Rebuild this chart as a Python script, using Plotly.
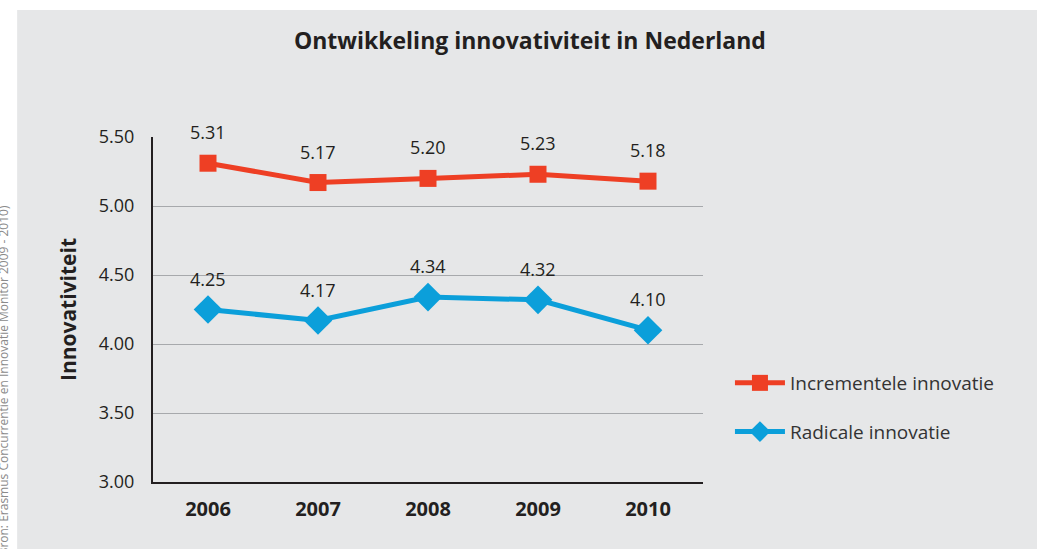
import plotly.graph_objects as go

years = ["2006", "2007", "2008", "2009", "2010"]
incrementeel = [5.31, 5.17, 5.20, 5.23, 5.18]
radicaal = [4.25, 4.17, 4.34, 4.32, 4.10]
y_ticks = [3.00, 3.50, 4.00, 4.50, 5.00, 5.50]

RED = "#ee3f24"
BLUE = "#0b9fda"
PANEL = "#e6e7e8"
FONT = "Open Sans"

fig = go.Figure()
fig.add_trace(go.Scatter(
    x=years, y=incrementeel, name="Incrementele innovatie", legendgroup="a",
    mode="lines+markers",
    line=dict(color=RED, width=5),
    marker=dict(symbol="square", size=17, color=RED),
))
fig.add_trace(go.Scatter(
    x=years, y=radicaal, name="Radicale innovatie", legendgroup="b",
    mode="lines+markers",
    line=dict(color=BLUE, width=5),
    marker=dict(symbol="diamond", size=22, color=BLUE),
))

# value labels above the points (category axis -> annotation x is the category index)
for series in (incrementeel, radicaal):
    for i, val in enumerate(series):
        fig.add_annotation(x=i, y=val, text="{:.2f}".format(val), showarrow=False,
                           yshift=31, font=dict(family=FONT, size=18, color="#231f20"))

# gray panel behind the chart
fig.add_shape(type="rect", xref="paper", yref="paper", layer="below",
              x0=-0.247, x1=2, y0=-0.4, y1=1.368,
              fillcolor=PANEL, line=dict(width=0))

# source note on the left edge
fig.add_annotation(xref="paper", yref="paper", x=-0.271, y=0.29,
                   text="(Bron: Erasmus Concurrentie en Innovatie Monitor 2009 - 2010)",
                   textangle=-90, showarrow=False, xanchor="center", yanchor="middle",
                   font=dict(family=FONT, size=12, color="#8a8a8a"))

fig.update_layout(
    width=1037, height=549,
    margin=dict(l=153, r=334, t=137, b=67),
    paper_bgcolor="white",
    plot_bgcolor="rgba(0,0,0,0)",
    font=dict(family=FONT, color="#231f20"),
    title=dict(text="<b>Ontwikkeling innovativiteit in Nederland</b>",
               x=0.511, xanchor="center", y=0.925, yanchor="middle",
               font=dict(family=FONT, size=23, color="#231f20")),
    showlegend=True,
    legend=dict(x=1.049, y=0.342, xanchor="left", yanchor="top",
                bgcolor="rgba(0,0,0,0)", traceorder="grouped", tracegroupgap=21,
                font=dict(family=FONT, size=19, color="#333333"), itemwidth=50),
)
fig.update_xaxes(
    type="category", range=[-0.5, 4.5],
    showgrid=False, showline=True, linecolor="#231f20", linewidth=2,
    tickfont=dict(family=FONT, size=20, color="#231f20", weight="bold"),
    ticks="", ticklabelstandoff=8,
)
fig.update_yaxes(
    range=[3, 5.5], tickvals=y_ticks, ticktext=["{:.2f}".format(v) for v in y_ticks],
    showgrid=True, gridcolor="#a7a9ac", gridwidth=1.2,
    showline=True, linecolor="#231f20", linewidth=2, zeroline=False,
    tickfont=dict(family=FONT, size=18, color="#231f20"), ticks="", ticklabelstandoff=13,
    title=dict(text="<b>Innovativiteit</b>", standoff=16,
               font=dict(family=FONT, size=21, color="#231f20")),
)

fig.write_html("out.html", config={"displayModeBar": False},
               post_script="document.body.style.margin='0';")
